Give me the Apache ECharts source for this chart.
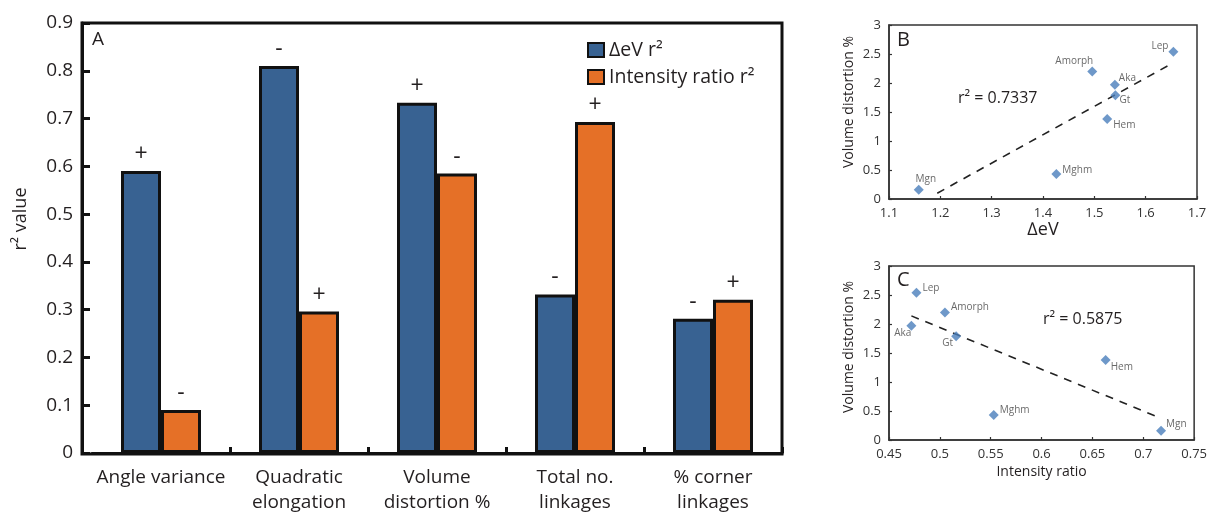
<!DOCTYPE html>
<html>
<head>
<meta charset="utf-8">
<script src="https://cdn.jsdelivr.net/npm/echarts@6/dist/echarts.min.js"></script>
<style>
  html, body { margin: 0; padding: 0; background: #fff; }
  #chart { width: 1210px; height: 515px; }
</style>
</head>
<body>
<div id="chart"></div>
<script>
// Panel A: r² of each structural parameter against ΔeV and intensity ratio
const parameters = ['Angle variance', 'Quadratic\nelongation', 'Volume\ndistortion %', 'Total no.\nlinkages', '% corner\nlinkages'];
const deltaEvR2 = [0.59, 0.81, 0.733, 0.332, 0.281];
const intensityR2 = [0.09, 0.296, 0.585, 0.693, 0.321];
const deltaEvSign = ['+', '-', '+', '-', '-'];
const intensitySign = ['-', '+', '-', '+', '+'];
const r2Ticks = [0, 0.9, 0.1];

// Panels B and C: per-mineral values
const minerals = ['Mgn', 'Mghm', 'Amorph', 'Aka', 'Gt', 'Hem', 'Lep'];
const deltaEv = [1.158, 1.426, 1.496, 1.540, 1.541, 1.525, 1.654];
const intensityRatio = [0.7175, 0.553, 0.505, 0.472, 0.516, 0.663, 0.477];
const volumeDistortion = [0.16, 0.43, 2.2, 1.97, 1.79, 1.38, 2.54];
const fitB = [[1.194, 0.10], [1.654, 2.35]];
const fitC = [[0.472, 2.14], [0.7175, 0.374]];
const r2B = '0.7337';
const r2C = '0.5875';

const FONT = '"Open Sans", "Noto Sans", sans-serif';
const INK = '#231f20';
const BLUE = '#386292';
const ORANGE = '#e57027';
const DOT = '#4a7ebb';

// label placement for each mineral: [position, dx, dy]
const placeB = {
  Mgn: ['top', 7, 1], Mghm: ['right', -1, -4], Amorph: ['top', -18, 2],
  Aka: ['right', -3, -7], Gt: ['right', -3, 5], Hem: ['right', -1, 6], Lep: ['left', 2, -6]
};
const placeC = {
  Mgn: ['right', -2, -7], Mghm: ['right', -1, -5], Amorph: ['right', -1, -5],
  Aka: ['left', 7, 7], Gt: ['left', 4, 7], Hem: ['right', -2, 7], Lep: ['right', -1, -5]
};

function scatterData(xs, place) {
  return minerals.map((m, i) => ({
    value: [xs[i], volumeDistortion[i]],
    name: m,
    label: { position: place[m][0], offset: [place[m][1], place[m][2]] }
  }));
}

function smallValueAxis(gridIndex, min, max, interval, name, nameGap, nameSize, namePad) {
  return {
    type: 'value', gridIndex, min, max, interval,
    name, nameLocation: 'middle', nameGap,
    nameTextStyle: { fontFamily: FONT, fontSize: nameSize, color: INK, padding: namePad || 0 },
    axisLine: { show: true, lineStyle: { color: '#333', width: 1.5 } },
    axisTick: { show: true, inside: true, length: 3, lineStyle: { color: '#333', width: 1.2 } },
    axisLabel: { fontFamily: FONT, fontSize: 13, color: '#333', margin: 8 },
    splitLine: { show: false }
  };
}

const chart = echarts.init(document.getElementById('chart'), null, { renderer: 'canvas' });

const option = {
  backgroundColor: '#fff',
  animation: false,
  grid: [
    // plotting area of panel A (categories start a little right of the y axis)
    { left: 92, top: 23, width: 690, height: 431, show: false },
    { left: 889, top: 25, width: 308, height: 174, show: true, borderColor: '#333', borderWidth: 1.5, backgroundColor: 'transparent' },
    { left: 889, top: 266, width: 308, height: 174, show: true, borderColor: '#333', borderWidth: 1.5, backgroundColor: 'transparent' },
    // frame around panel A
    { left: 82, top: 23, width: 700, height: 431, show: true, borderColor: '#111', borderWidth: 3, backgroundColor: 'transparent' }
  ],
  legend: {
    orient: 'vertical', left: 582, top: 35,
    itemWidth: 16, itemHeight: 14, itemGap: 7, icon: 'rect',
    textStyle: { fontFamily: FONT, fontSize: 19.5, color: INK },
    data: ['∆eV r²', 'Intensity ratio r²']
  },
  xAxis: [
    {
      type: 'category', gridIndex: 0, data: parameters,
      axisLine: { lineStyle: { color: '#111', width: 3 } },
      axisTick: { show: true, inside: true, length: 6, interval: i => i > 0, lineStyle: { color: '#111', width: 3 } },
      axisLabel: { interval: 0, fontFamily: FONT, fontSize: 19, lineHeight: 25, color: INK, margin: 12 }
    },
    smallValueAxis(1, 1.1, 1.7, 0.1, '∆eV', 20, 18),
    smallValueAxis(2, 0.45, 0.75, 0.05, 'Intensity ratio', 25, 14)
  ],
  yAxis: [
    {
      type: 'value', gridIndex: 0, min: r2Ticks[0], max: r2Ticks[1], interval: r2Ticks[2],
      offset: 10,
      name: 'r² value', nameLocation: 'middle', nameGap: 52,
      nameTextStyle: { fontFamily: FONT, fontSize: 18, color: INK, padding: [0, 0, 0, 38] },
      axisLine: { show: true, lineStyle: { color: '#111', width: 3 } },
      axisTick: { show: true, inside: true, length: 8, lineStyle: { color: '#111', width: 3 } },
      axisLabel: { fontFamily: FONT, fontSize: 19, color: INK, margin: 9 },
      splitLine: { show: false }
    },
    smallValueAxis(1, 0, 3, 0.5, 'Volume distortion %', 33, 14, [0, 0, 0, 20]),
    smallValueAxis(2, 0, 3, 0.5, 'Volume distortion %', 33, 14, [0, 0, 0, 12])
  ],
  series: [
    {
      name: '∆eV r²', type: 'bar', xAxisIndex: 0, yAxisIndex: 0,
      data: deltaEvR2, barWidth: 40, barGap: '0%',
      itemStyle: { color: BLUE, borderColor: '#111', borderWidth: 3 },
      label: {
        show: true, position: 'top', distance: 5,
        fontFamily: FONT, fontSize: 23, color: INK,
        formatter: p => deltaEvSign[p.dataIndex]
      }
    },
    {
      name: 'Intensity ratio r²', type: 'bar', xAxisIndex: 0, yAxisIndex: 0,
      data: intensityR2, barWidth: 40, barGap: '0%',
      itemStyle: { color: ORANGE, borderColor: '#111', borderWidth: 3 },
      label: {
        show: true, position: 'top', distance: 5,
        fontFamily: FONT, fontSize: 23, color: INK,
        formatter: p => intensitySign[p.dataIndex]
      }
    },
    {
      type: 'line', xAxisIndex: 1, yAxisIndex: 1, data: fitB, symbol: 'none', silent: true,
      lineStyle: { color: '#222', width: 1.6, type: [8, 7] }, z: 1
    },
    {
      type: 'scatter', xAxisIndex: 1, yAxisIndex: 1,
      data: scatterData(deltaEv, placeB), symbol: 'diamond', symbolSize: 10,
      itemStyle: { color: DOT },
      label: { show: true, formatter: p => p.name, distance: 2, fontFamily: FONT, fontSize: 10, color: '#444' }, z: 3
    },
    {
      type: 'line', xAxisIndex: 2, yAxisIndex: 2, data: fitC, symbol: 'none', silent: true,
      lineStyle: { color: '#222', width: 1.6, type: [8, 7] }, z: 1
    },
    {
      type: 'scatter', xAxisIndex: 2, yAxisIndex: 2,
      data: scatterData(intensityRatio, placeC), symbol: 'diamond', symbolSize: 10,
      itemStyle: { color: DOT },
      label: { show: true, formatter: p => p.name, distance: 2, fontFamily: FONT, fontSize: 10, color: '#444' }, z: 3
    }
  ],
  graphic: [
    { type: 'text', left: 92, top: 30, style: { text: 'A', fontFamily: FONT, fontSize: 19, fill: INK } },
    { type: 'text', left: 897, top: 30, style: { text: 'B', fontFamily: FONT, fontSize: 20, fill: INK } },
    { type: 'text', left: 897, top: 270, style: { text: 'C', fontFamily: FONT, fontSize: 20, fill: INK } },
    { type: 'text', left: 958, top: 90, style: { text: 'r² = ' + r2B, fontFamily: FONT, fontSize: 16, fill: INK } },
    { type: 'text', left: 1043, top: 311, style: { text: 'r² = ' + r2C, fontFamily: FONT, fontSize: 16, fill: INK } }
  ]
};

chart.setOption(option);
</script>
</body>
</html>
